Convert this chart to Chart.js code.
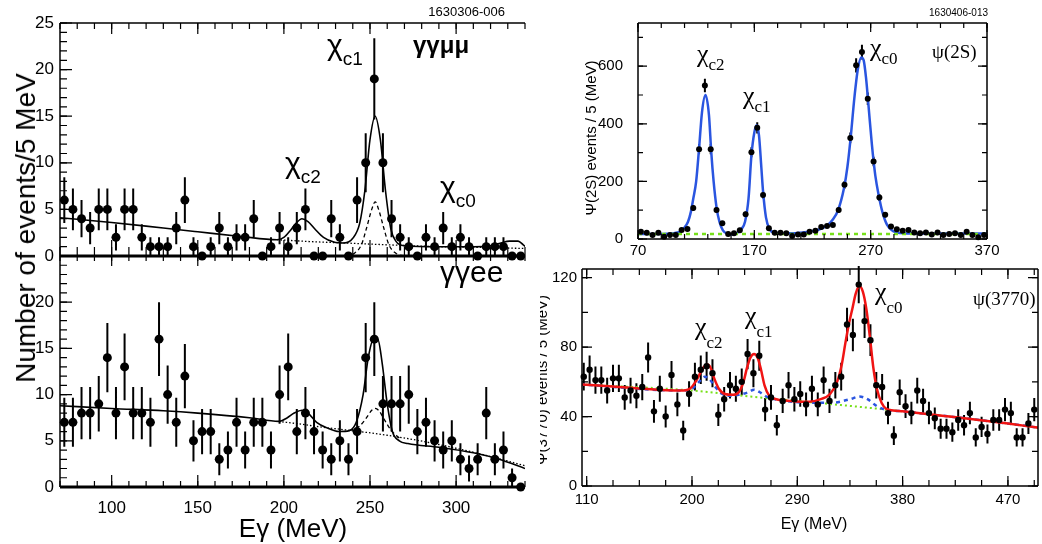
<!DOCTYPE html>
<html>
<head>
<meta charset="utf-8">
<script src="https://cdn.jsdelivr.net/npm/chart.js@4.4.1/dist/chart.umd.min.js"></script>
<style>
  body { margin: 0; background: #fff; width: 1042px; height: 544px; overflow: hidden; position: relative; }
  canvas { position: absolute; }
  #ytitle { position: absolute; left: 26px; top: 228px; transform: translate(-50%, -50%) rotate(-90deg);
            font: 28px 'Liberation Sans', Arial, sans-serif; white-space: nowrap; color: #000; }
</style>
</head>
<body>
<canvas id="mumu" width="540" height="280" style="left:0;top:0"></canvas>
<canvas id="ee" width="540" height="314" style="left:0;top:230px"></canvas>
<canvas id="psi2s" width="502" height="278" style="left:540px;top:-10px"></canvas>
<canvas id="psi3770" width="502" height="294" style="left:540px;top:250px"></canvas>
<div id="ytitle">Number of events/5 MeV</div>
<script>
// ---- left: gamma gamma mu mu / gamma gamma e e, 5 MeV bins from 72.5 MeV ----
const muCounts = [6,5,4,3,5,5,2,5,5,2,1,1,1,3,6,1,0,1,3,1,2,2,4,0,1,3,1,3,5,0,0,4,2,0,
                  6,10,19,10,4,2,1,0,2,1,3,1,2,1,0,1,1,1,0,0];
const eeCounts = [7,7,8,8,9,14,8,13,8,8,7,16,10,7,12,5,6,6,3,4,7,4,7,7,4,10,13,6,8,6,4,3,5,3,
                  6,14,16,9,9,9,10,6,7,5,4,5,3,2,3,8,3,4,1,0];

// fit curves
const muFitE = [70,100,130,150,175,196,200,204,207,210.5,214,218,223,229,235,240,244,247,250,253,256,259,262,265,270,290,310,320,326,331,336,339,341];
const muFitV = [4.1,3.6,3.0,2.6,2.1,1.75,2.0,2.8,3.5,4.0,3.7,2.9,2.0,1.5,1.4,1.9,3.5,7,12.5,15,12.5,7,3,1.6,1.1,1.0,1.0,1.1,1.4,1.6,1.6,1.2,0.9];
const muBgE = [196,215,235,260,290,320,341];
const muBgV = [1.75,1.55,1.4,1.2,1.0,0.9,0.8];
const muPeakE = [236,241,245,248,251,253,255,258,261,265,270];
const muPeakV = [0,0.3,1.2,3,5,5.8,5,3,1.2,0.3,0];

const eeFitE = [70,100,130,150,180,197,202,206,210.5,214,219,225,232,238,242,246,249,252,254.5,257,260,263,267,272,290,310,325,340];
const eeFitV = [8.8,8.5,8.25,8.0,7.5,7.1,7.5,8.0,8.3,8.0,7.0,6.4,6.0,6.1,7.0,10,14,16,16,13.5,9,6,5,4.7,4.3,3.7,3.0,2.0];
const eeBgE = [197,210,221,235,260,290,320,340];
const eeBgV = [7.1,6.8,6.5,6.2,5.6,4.6,3.3,2.3];
const eePeakE = [238,244,248,251,253,255,258,262,267];
const eePeakV = [6.1,6.6,7.5,8.3,8.5,8.3,7.4,6.2,5.3];

const leftXTicks = [100,150,200,250,300];
const muYTicks = [0,5,10,15,20,25];
const eeYTicks = [0,5,10,15,20];

// ---- right top: psi(2S), 5 MeV bins from 72.5 MeV ----
const psi2sCounts = [25,22,14,22,8,14,14,31,35,108,312,533,312,101,55,17,20,30,86,301,386,153,37,22,22,20,10,16,16,25,
                     29,42,45,49,101,188,351,603,649,487,269,144,84,43,34,29,31,23,20,23,16,23,14,17,20,14,25,14,6,14];
const psiFitE = [70,85,95,102,107,110,113,115.5,117.5,120,122.5,125,128,131,133,135,137.5,140,143,147,151,155,159,162,165,167.5,170,172,174,176,
                 177.5,180,183,187,195,205,215,225,232,237,242,247,250,253,256,259,262,264,266,268,271,274,277,280,284,289,295,310,340,370];
const psiFitV = [17,17,18,21,28,40,60,95,140,200,315,440,500,430,300,200,110,60,30,18,16,20,35,60,140,290,370,395,360,250,
                 165,75,35,22,20,20,24,32,45,65,100,175,250,360,490,590,630,620,560,470,330,220,150,95,50,28,21,19,19,19];
const psiBgE = [70,370];
const psiBgV = [17,17];
const psi2sXTicks = [70,170,270,370];
const psi2sYTicks = [0,200,400,600];

// ---- right bottom: psi(3770), 5 MeV bins from 107.5 MeV ----
const psi3770Counts = [63,67,61,61,55,62,62,51,55,52,57,74,43,56,40,64,47,32,53,63,67,69,65,41,50,58,56,60,76,65,
                       75,44,51,35,49,58,50,53,47,56,47,61,49,58,63,93,87,116,95,84,58,57,42,29,54,46,42,55,49,42,
                       39,33,33,31,38,35,42,28,34,30,38,38,44,42,28,28,36,44];
const redE = [105,150,190,198,203,207,210,213,216,219,223,228,235,240,244,247,250,253,256,259,262,266,272,285,300,310,318,324,328,331,
              334,337,340,343,346,349,352,355,358,362,366,372,380,420,470,497];
const redV = [58.5,56.5,55,56,60,65,68.5,70,68,62,56,53,52.5,54,60,68,74,76,74,67,58,52,50,49,48.5,50,53,60,70,82,
              93,102,111,115,112,102,86,68,56,48,44.5,43.5,43,40,36,33.5];
const blueE = [105,190,200,206,211,215,220,226,232,240,248,253,258,265,275,300,320,335,343,350,358,365,380,470,497];
const blueV = [58.5,55,56,60,63,61.5,57,53,52,52.5,54,55.5,54,51,49.5,48,48,50,51.5,50,46,44,43,36,33.5];
const greenE = [105,200,250,290,340,380,470,497];
const greenV = [58.5,55,51.5,49,45.8,43,36,33.5];
const psi3770XTicks = [110,200,290,380,470];
const psi3770YTicks = [0,40,80,120];

const sans = "'Liberation Sans', Arial, sans-serif";
const serif = "'Liberation Serif', 'Times New Roman', serif";

function centres(first, n) { const c = []; for (let i = 0; i < n; i++) c.push(first + 5 * i); return c; }
function range(a, b, s) { const r = []; for (let v = a; v <= b + 1e-9; v += s) r.push(+v.toFixed(3)); return r; }
function pts(xs, ys) { return xs.map((x, i) => ({ x, y: ys[i] })); }

function pointsSet(counts, first, radius, errW) {
  const xs = centres(first, counts.length);
  return { data: pts(xs, counts), errors: counts.map(v => Math.sqrt(v)), errWidth: errW,
           pointRadius: radius, pointBackgroundColor: '#000', pointBorderWidth: 0, clip: false, order: 0 };
}
function curve(xs, ys, color, width, dash) {
  return { data: pts(xs, ys), showLine: true, pointRadius: 0, borderColor: color, borderWidth: width,
           borderDash: dash || [], cubicInterpolationMode: 'monotone', fill: false, order: 1 };
}

// error bars, inner ticks, frame and text
const decor = {
  id: 'decor',
  beforeDatasetsDraw(chart) {
    const { ctx, scales: { x, y } } = chart;
    ctx.save();
    ctx.strokeStyle = '#000';
    chart.data.datasets.forEach(ds => {
      if (!ds.errors) return;
      ctx.lineWidth = ds.errWidth;
      ctx.beginPath();
      ds.data.forEach((p, j) => {
        const e = ds.errors[j];
        if (!e) return;
        const px = x.getPixelForValue(p.x);
        ctx.moveTo(px, y.getPixelForValue(p.y - e));
        ctx.lineTo(px, y.getPixelForValue(p.y + e));
      });
      ctx.stroke();
    });
    ctx.restore();
  },
  afterDatasetsDraw(chart, args, o) {
    const { ctx, chartArea: a, scales: { x, y } } = chart;
    ctx.save();
    ctx.strokeStyle = '#000';
    (o.ticks || []).forEach(t => {
      ctx.lineWidth = t.w || 1.2;
      ctx.beginPath();
      t.values.forEach(v => {
        if (t.side === 'bottom' || t.side === 'top') {
          const px = x.getPixelForValue(v);
          const y0 = t.side === 'bottom' ? a.bottom : a.top;
          ctx.moveTo(px, y0);
          ctx.lineTo(px, y0 + (t.side === 'bottom' ? -t.len : t.len));
        } else {
          const py = y.getPixelForValue(v);
          const x0 = t.side === 'left' ? a.left : a.right;
          ctx.moveTo(x0, py);
          ctx.lineTo(x0 + (t.side === 'left' ? t.len : -t.len), py);
        }
      });
      ctx.stroke();
    });
    const f = o.frame || {};
    [['top', a.left, a.top, a.right, a.top], ['bottom', a.left, a.bottom, a.right, a.bottom],
     ['left', a.left, a.top, a.left, a.bottom], ['right', a.right, a.top, a.right, a.bottom]].forEach(([s, x1, y1, x2, y2]) => {
      if (!f[s]) return;
      ctx.lineWidth = f[s];
      ctx.beginPath(); ctx.moveTo(x1, y1); ctx.lineTo(x2, y2); ctx.stroke();
    });
    ctx.fillStyle = '#000';
    (o.labels || []).forEach(l => {
      ctx.save();
      ctx.translate(l.x, l.y);
      if (l.rot) ctx.rotate(l.rot);
      ctx.font = l.font;
      ctx.textAlign = l.align || 'left';
      ctx.textBaseline = l.baseline || 'alphabetic';
      ctx.fillText(l.text, 0, 0);
      if (l.sub) {
        const w = ctx.measureText(l.text).width;
        ctx.font = l.subFont;
        ctx.textAlign = 'left';
        ctx.fillText(l.sub, w, l.subDy);
      }
      ctx.restore();
    });
    ctx.restore();
  }
};

function build(id, o) {
  return new Chart(document.getElementById(id), {
    type: 'scatter',
    data: { datasets: o.datasets },
    options: {
      responsive: false, animation: false, events: [],
      layout: { padding: o.pad },
      plugins: { legend: { display: false }, tooltip: { enabled: false }, decor: o.decor },
      scales: {
        x: {
          type: 'linear', min: o.xMin, max: o.xMax,
          grid: { display: false, drawTicks: false }, border: { display: false },
          afterBuildTicks: s => { s.ticks = o.xTicks.map(v => ({ value: v })); },
          afterFit: s => { s.height = o.xH; },
          ticks: { display: o.xLabels, font: { family: sans, size: o.tickSize }, color: '#000',
                   padding: o.xPad, maxRotation: 0, autoSkip: false }
        },
        y: {
          type: 'linear', min: o.yMin, max: o.yMax,
          grid: { display: false, drawTicks: false }, border: { display: false },
          afterBuildTicks: s => { s.ticks = o.yTicks.map(v => ({ value: v })); },
          afterFit: s => { s.width = o.yW; },
          ticks: { font: { family: sans, size: o.tickSize }, color: '#000', padding: o.yPad, autoSkip: false }
        }
      }
    },
    plugins: [decor]
  });
}

const chi = (x, y, sub, size, subSize, dy, fam) => ({ text: 'χ', sub, x, y, font: size + 'px ' + fam,
                                                     subFont: subSize + 'px ' + fam, subDy: dy });

// top left (canvas at 0,0)
build('mumu', {
  datasets: [pointsSet(muCounts, 72.5, 4.5, 2),
             curve(muFitE, muFitV, '#000', 1.6),
             curve(muBgE, muBgV, '#000', 1.3, [1.5, 2]),
             curve(muPeakE, muPeakV, '#000', 1.3, [4, 3])],
  pad: { top: 23, right: 15, left: 0, bottom: 0 },
  xMin: 70, xMax: 340, yMin: 0, yMax: 25, xTicks: leftXTicks, yTicks: muYTicks,
  xH: 24, yW: 60, xPad: 0, yPad: 6, tickSize: 17, xLabels: false,
  decor: {
    frame: { top: 1.5, left: 1.5, bottom: 3 },
    ticks: [
      { side: 'bottom', values: range(70, 340, 10), len: 9 },
      { side: 'bottom', values: leftXTicks, len: 16 },
      { side: 'top', values: range(70, 340, 10), len: 6 },
      { side: 'top', values: leftXTicks, len: 11 },
      { side: 'left', values: range(0, 25, 1), len: 7 },
      { side: 'left', values: muYTicks, len: 12 }
    ],
    labels: [
      chi(327, 55, 'c1', 30, 19, 10, sans),
      chi(285, 173, 'c2', 30, 19, 10, sans),
      chi(440, 197, 'c0', 30, 19, 10, sans),
      { text: 'γγμμ', x: 413, y: 53, font: 'bold 24px ' + sans },
      { text: '1630306-006', x: 505, y: 16, font: '13px ' + sans, align: 'right' }
    ]
  }
});

// bottom left (canvas at 0,230)
build('ee', {
  datasets: [pointsSet(eeCounts, 72.5, 4.5, 2),
             curve(eeFitE, eeFitV, '#000', 1.6),
             curve(eeBgE, eeBgV, '#000', 1.3, [1.5, 2]),
             curve(eePeakE, eePeakV, '#000', 1.3, [4, 3])],
  pad: { top: 26, right: 15, left: 0, bottom: 0 },
  xMin: 70, xMax: 340, yMin: 0, yMax: 25, xTicks: leftXTicks, yTicks: eeYTicks,
  xH: 57, yW: 60, xPad: 11, yPad: 6, tickSize: 17, xLabels: true,
  decor: {
    frame: { left: 1.5, bottom: 3 },
    ticks: [
      { side: 'bottom', values: range(70, 340, 10), len: 6 },
      { side: 'bottom', values: leftXTicks, len: 12 },
      { side: 'top', values: range(70, 340, 10), len: 5 },
      { side: 'top', values: leftXTicks, len: 10 },
      { side: 'left', values: range(0, 25, 1), len: 7 },
      { side: 'left', values: eeYTicks, len: 12 }
    ],
    labels: [
      { text: 'γγee', x: 440, y: 52, font: '30px ' + sans },
      { text: 'Eγ (MeV)', x: 293, y: 307, font: '26px ' + sans, align: 'center' }
    ]
  }
});

// top right (canvas at 540,-10)
build('psi2s', {
  datasets: [pointsSet(psi2sCounts, 72.5, 3, 2),
             curve(psiBgE, psiBgV, '#77e01a', 2.5, [4, 4]),
             curve(psiFitE, psiFitV, '#2a55e0', 2.5)],
  pad: { top: 33, right: 55, left: 0, bottom: 0 },
  xMin: 70, xMax: 370, yMin: 0, yMax: 750, xTicks: psi2sXTicks, yTicks: psi2sYTicks,
  xH: 29, yW: 98, xPad: 3, yPad: 15, tickSize: 15, xLabels: true,
  decor: {
    frame: { top: 1.5, left: 1.5, bottom: 1.5, right: 1.5 },
    ticks: [
      { side: 'bottom', values: range(70, 370, 20), len: 5 },
      { side: 'bottom', values: psi2sXTicks, len: 9 },
      { side: 'top', values: range(70, 370, 20), len: 5 },
      { side: 'top', values: psi2sXTicks, len: 9 },
      { side: 'left', values: range(0, 700, 100), len: 5 },
      { side: 'left', values: psi2sYTicks, len: 9 },
      { side: 'right', values: range(0, 700, 100), len: 5 },
      { side: 'right', values: psi2sYTicks, len: 9 }
    ],
    labels: [
      chi(157, 72, 'c2', 26, 17, 8, serif),
      chi(203, 114, 'c1', 26, 17, 8, serif),
      chi(330, 66, 'c0', 26, 17, 8, serif),
      { text: 'ψ(2S)', x: 392, y: 68, font: '19px ' + serif },
      { text: '1630406-013', x: 448, y: 26, font: '10px ' + sans, align: 'right' },
      { text: 'Ψ(2S) events / 5 (MeV)', x: 52, y: 148, rot: -Math.PI / 2, font: '15px ' + sans,
        align: 'center', baseline: 'middle' }
    ]
  }
});

// bottom right (canvas at 540,250)
build('psi3770', {
  datasets: [pointsSet(psi3770Counts, 107.5, 3.2, 2),
             curve(redE, redV, '#f01414', 2.5),
             curve(blueE, blueV, '#2a55e0', 2.5, [4, 4]),
             curve(greenE, greenV, '#77e01a', 2, [2, 3])],
  pad: { top: 19, right: 1, left: 0, bottom: 0 },
  xMin: 106, xMax: 495.7, yMin: 0, yMax: 125, xTicks: psi3770XTicks, yTicks: psi3770YTicks,
  xH: 58, yW: 42, xPad: 5, yPad: 5, tickSize: 15, xLabels: true,
  decor: {
    frame: { top: 1.5, left: 1.5, bottom: 1.5, right: 1.5 },
    ticks: [
      { side: 'bottom', values: range(110, 492.5, 22.5), len: 6 },
      { side: 'bottom', values: psi3770XTicks, len: 10 },
      { side: 'top', values: range(110, 492.5, 22.5), len: 6 },
      { side: 'top', values: psi3770XTicks, len: 10 },
      { side: 'left', values: range(0, 120, 20), len: 6 },
      { side: 'left', values: psi3770YTicks, len: 10 },
      { side: 'right', values: range(0, 120, 20), len: 6 },
      { side: 'right', values: psi3770YTicks, len: 10 }
    ],
    labels: [
      chi(155, 85, 'c2', 26, 17, 13, serif),
      chi(205, 74, 'c1', 26, 17, 13, serif),
      chi(335, 50, 'c0', 26, 17, 13, serif),
      { text: 'ψ(3770)', x: 433, y: 55, font: '19px ' + serif },
      { text: 'Eγ (MeV)', x: 274, y: 279, font: '16px ' + sans, align: 'center' },
      { text: 'Ψ(3770) events / 5 (MeV)', x: 3, y: 130, rot: -Math.PI / 2, font: '15px ' + sans,
        align: 'center', baseline: 'middle' }
    ]
  }
});
</script>
</body>
</html>
